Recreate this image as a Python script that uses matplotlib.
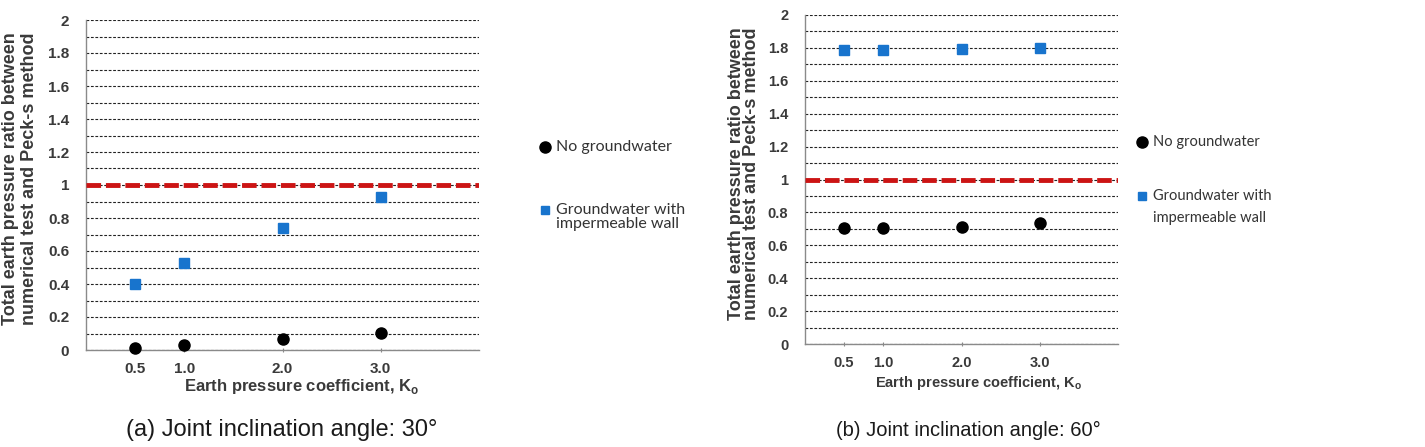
import matplotlib
matplotlib.use("Agg")
import matplotlib.pyplot as plt
from matplotlib.lines import Line2D
from matplotlib.ticker import MultipleLocator

# data
k0 = [0.5, 1.0, 2.0, 3.0]
k0_labels = ["0.5", "1.0", "2.0", "3.0"]
no_gw_30 = [0.01, 0.03, 0.067, 0.105]
gw_wall_30 = [0.40, 0.53, 0.74, 0.925]
no_gw_60 = [0.705, 0.705, 0.713, 0.734]
gw_wall_60 = [1.79, 1.79, 1.795, 1.80]
ref_ratio = 1.0
y_ticks = [0, 0.2, 0.4, 0.6, 0.8, 1.0, 1.2, 1.4, 1.6, 1.8, 2.0]
captions = ["(a) Joint inclination angle: 30°", "(b) Joint inclination angle: 60°"]

W, H = 1425, 447
fig = plt.figure(figsize=(W / 100, H / 100), dpi=100)

def px(x, y):
    return x / W, 1 - y / H

BLUE = "#1874CD"
RED = "#CC1414"
TXT = "#3a3a3a"
FAM = "Liberation Sans"
ylab = "Total earth pressure ratio between\nnumerical test and Peck-s method"

# per panel layout (pixels) -- the right panel of the source is squeezed sideways
panels = [
    dict(box=(86, 20, 479, 350), tick=11, ypad=12, xlab=12, xlab_xy=(302, 387),
         ylab_x=20, ylab_ls=1.1, leg=((545, 147), (545, 210), 14), leg_fs=11.5,
         cap_x=282, cap_fs=17),
    dict(box=(805, 15, 1118, 344), tick=10.5, ypad=12, xlab=10.5, xlab_xy=(979, 383),
         ylab_x=744, ylab_ls=0.9, leg=((1142, 142), (1142, 196), 22), leg_fs=10.5,
         cap_x=968, cap_fs=14.5),
]
series = [(no_gw_30, gw_wall_30), (no_gw_60, gw_wall_60)]

for i, p in enumerate(panels):
    l, t, r, b = p["box"]
    ax = fig.add_axes([l / W, 1 - b / H, (r - l) / W, (b - t) / H])
    ax.set_xlim(0, 4)
    ax.set_ylim(0, 2)
    ax.yaxis.set_minor_locator(MultipleLocator(0.1))
    ax.set_yticks(y_ticks)
    ax.set_yticklabels(["%g" % v for v in y_ticks])
    ax.set_xticks(k0)
    ax.set_xticklabels(k0_labels)
    ax.grid(axis="y", which="both", color="#222222", lw=0.8, ls=(0, (2.5, 1.5)))
    ax.set_axisbelow(True)
    for s in ["top", "right"]:
        ax.spines[s].set_visible(False)
    for s in ["left", "bottom"]:
        ax.spines[s].set_color("#8a8a8a")
        ax.spines[s].set_linewidth(1.0)
    ax.tick_params(axis="y", which="both", length=0, pad=p["ypad"],
                   labelsize=p["tick"], labelcolor=TXT)
    ax.tick_params(axis="x", length=3, direction="inout", color="#8a8a8a",
                   pad=7, labelsize=p["tick"], labelcolor=TXT)
    for lab in ax.get_xticklabels() + ax.get_yticklabels():
        lab.set_fontweight("bold")
        lab.set_fontfamily(FAM)

    ax.axhline(ref_ratio, color=RED, lw=3.5, dashes=(3, 1), zorder=3)
    no_gw, gw_wall = series[i]
    ax.plot(k0, gw_wall, ls="none", marker="s", ms=7, color=BLUE, zorder=4,
            clip_on=False)
    ax.plot(k0, no_gw, ls="none", marker="o", ms=8, color="black", zorder=4,
            clip_on=False)

    ax.set_xlabel("Earth pressure coefficient, K$_\\mathregular{o}$",
                  fontsize=p["xlab"], fontweight="bold", color=TXT, family=FAM,
                  va="center")
    lx, ly = p["xlab_xy"]
    ax.xaxis.set_label_coords((lx - l) / (r - l), (b - ly) / (b - t))

    fig.text(*px(p["ylab_x"], (t + b) / 2 - 6), ylab, rotation=90, ha="center",
             va="center", multialignment="center", fontsize=13,
             fontweight="bold", color=TXT, family=FAM, linespacing=p["ylab_ls"])

    # legend keys
    (cx1, cy1), (cx2, cy2), lsp = p["leg"]
    fig.add_artist(Line2D([cx1 / W], [1 - cy1 / H], transform=fig.transFigure,
                          marker="o", ms=8, color="black", ls="none"))
    fig.add_artist(Line2D([cx2 / W], [1 - cy2 / H], transform=fig.transFigure,
                          marker="s", ms=6, color=BLUE, ls="none"))
    for txt, (tx, ty) in [("No groundwater", (cx1 + 11, cy1)),
                          ("Groundwater with", (cx2 + 11, cy2)),
                          ("impermeable wall", (cx2 + 11, cy2 + lsp))]:
        fig.text(*px(tx, ty), txt, fontsize=p["leg_fs"], family="Lato",
                 color="#333333", va="center")

    fig.text(*px(p["cap_x"], 430), captions[i], fontsize=p["cap_fs"],
             ha="center", va="center", family=FAM, color="#1a1a1a")

fig.savefig("out.png", dpi=100)
